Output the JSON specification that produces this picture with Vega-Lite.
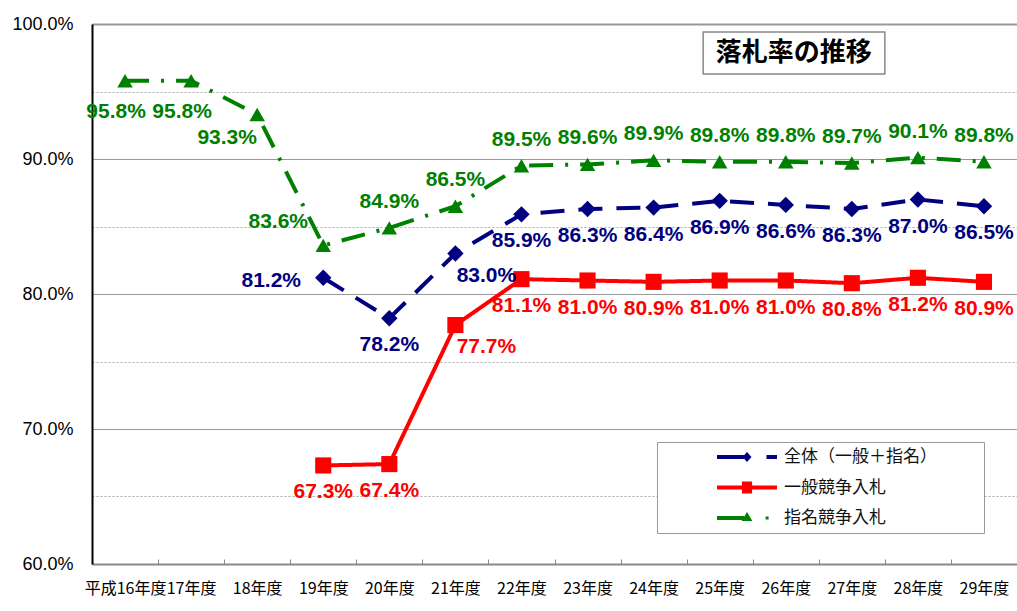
{
  "$schema": "https://vega.github.io/schema/vega-lite/v6.json",
  "width": 925,
  "height": 540,
  "autosize": {"type": "none"},
  "padding": {"left": 92, "top": 24, "right": 0, "bottom": 47},
  "config": {"view": {"stroke": null}},
  "datasets": {
    "rates": [
      {"year": "平成16年度", "series": "指名競争入札", "rate": 0.958},
      {"year": "17年度", "series": "指名競争入札", "rate": 0.958},
      {"year": "18年度", "series": "指名競争入札", "rate": 0.933},
      {"year": "19年度", "series": "指名競争入札", "rate": 0.836},
      {"year": "20年度", "series": "指名競争入札", "rate": 0.849},
      {"year": "21年度", "series": "指名競争入札", "rate": 0.865},
      {"year": "22年度", "series": "指名競争入札", "rate": 0.895},
      {"year": "23年度", "series": "指名競争入札", "rate": 0.896},
      {"year": "24年度", "series": "指名競争入札", "rate": 0.899},
      {"year": "25年度", "series": "指名競争入札", "rate": 0.898},
      {"year": "26年度", "series": "指名競争入札", "rate": 0.898},
      {"year": "27年度", "series": "指名競争入札", "rate": 0.897},
      {"year": "28年度", "series": "指名競争入札", "rate": 0.901},
      {"year": "29年度", "series": "指名競争入札", "rate": 0.898},
      {"year": "19年度", "series": "全体（一般＋指名）", "rate": 0.812},
      {"year": "20年度", "series": "全体（一般＋指名）", "rate": 0.782},
      {"year": "21年度", "series": "全体（一般＋指名）", "rate": 0.830},
      {"year": "22年度", "series": "全体（一般＋指名）", "rate": 0.859},
      {"year": "23年度", "series": "全体（一般＋指名）", "rate": 0.863},
      {"year": "24年度", "series": "全体（一般＋指名）", "rate": 0.864},
      {"year": "25年度", "series": "全体（一般＋指名）", "rate": 0.869},
      {"year": "26年度", "series": "全体（一般＋指名）", "rate": 0.866},
      {"year": "27年度", "series": "全体（一般＋指名）", "rate": 0.863},
      {"year": "28年度", "series": "全体（一般＋指名）", "rate": 0.870},
      {"year": "29年度", "series": "全体（一般＋指名）", "rate": 0.865},
      {"year": "19年度", "series": "一般競争入札", "rate": 0.673},
      {"year": "20年度", "series": "一般競争入札", "rate": 0.674},
      {"year": "21年度", "series": "一般競争入札", "rate": 0.777},
      {"year": "22年度", "series": "一般競争入札", "rate": 0.811},
      {"year": "23年度", "series": "一般競争入札", "rate": 0.810},
      {"year": "24年度", "series": "一般競争入札", "rate": 0.809},
      {"year": "25年度", "series": "一般競争入札", "rate": 0.810},
      {"year": "26年度", "series": "一般競争入札", "rate": 0.810},
      {"year": "27年度", "series": "一般競争入札", "rate": 0.808},
      {"year": "28年度", "series": "一般競争入札", "rate": 0.812},
      {"year": "29年度", "series": "一般競争入札", "rate": 0.809}
    ],
    "note": [
      {"x1": 9.25, "x2": 12.0, "y1": 0.994, "y2": 0.963, "xt": 10.62, "yt": 0.9785, "label": "落札率の推移"}
    ]
  },
  "layer": [
    {
      "data": {"name": "rates"},
      "encoding": {
        "x": {
          "field": "year", "type": "nominal",
          "scale": {"domain": ["平成16年度", "17年度", "18年度", "19年度", "20年度", "21年度", "22年度", "23年度", "24年度", "25年度", "26年度", "27年度", "28年度", "29年度"], "paddingInner": 0, "paddingOuter": 0},
          "axis": {"title": null, "labelAngle": 0, "labelFont": "Noto Sans CJK JP", "labelFontSize": 16, "labelColor": "#000", "labelPadding": 21, "domainColor": "#888", "domainWidth": 2, "tickColor": "#888", "tickSize": -5, "tickBand": "extent", "labelOverlap": false, "labelBound": false, "grid": false}
        },
        "y": {
          "field": "rate", "type": "quantitative",
          "scale": {"domain": [0.6, 1.0], "nice": false, "zero": false},
          "axis": {
            "title": null,
            "values": [0.6, 0.65, 0.7, 0.75, 0.8, 0.85, 0.9, 0.95, 1.0],
            "format": ".1%",
            "labelExpr": "round(datum.value*100) % 10 == 0 ? datum.label : ''",
            "labelFont": "Liberation Sans", "labelFontSize": 18, "labelColor": "#000", "labelPadding": 19,
            "ticks": false,
            "domainColor": "#000", "domainWidth": 2,
            "grid": true,
            "gridColor": {"condition": {"test": "round(datum.value*100) % 10 == 5", "value": "#aaa"}, "value": "#999"},
            "gridDash": {"condition": {"test": "round(datum.value*100) % 10 == 5", "value": [2, 2]}, "value": []},
            "gridWidth": {"condition": {"test": "round(datum.value*100) == 100", "value": 2}, "value": 1}
          }
        },
        "color": {
          "field": "series", "type": "nominal",
          "scale": {"domain": ["全体（一般＋指名）", "一般競争入札", "指名競争入札"], "range": ["#000080", "#ff0000", "#008000"]}
        }
      },
      "layer": [
        {
          "mark": {"type": "line", "strokeWidth": 4, "strokeCap": "butt"},
          "encoding": {
            "strokeDash": {
              "field": "series", "type": "nominal",
              "scale": {"domain": ["全体（一般＋指名）", "一般競争入札", "指名競争入札"], "range": [[24, 14], [1, 0], [24, 12, 3, 12]]},
              "legend": null
            },
            "color": {
              "field": "series", "type": "nominal",
              "legend": {
                "orient": "none", "legendX": 565, "legendY": 418,
                "title": "\u00a0", "titleOrient": "right", "titlePadding": 42,
                "strokeColor": "#999", "fillColor": "#fff", "padding": 5,
                "symbolSize": 3600, "symbolOffset": 55, "labelOffset": 7,
                "clipHeight": 20, "rowPadding": 10.5,
                "labelFont": "Noto Sans CJK JP", "labelFontSize": 17, "labelColor": "#111",
                "encode": {
                  "symbols": {
                    "update": {
                      "shape": {"signal": "datum.value === '全体（一般＋指名）' ? 'M-1,-0.067L-0.1,-0.067L-0.1,0.067L-1,0.067Z M0,-0.17L0.15,0L0,0.17L-0.15,0Z M0.65,-0.067L1,-0.067L1,0.067L0.65,0.067Z' : datum.value === '一般競争入札' ? 'M-1,-0.067L1,-0.067L1,0.067L-1,0.067Z M-0.17,-0.2L0.17,-0.2L0.17,0.2L-0.17,0.2Z' : 'M-1,-0.067L-0.1,-0.067L-0.1,0.067L-1,0.067Z M0,-0.2L0.18,0.1L-0.18,0.1Z M0.62,-0.05L0.72,-0.05L0.72,0.05L0.62,0.05Z'"},
                      "fill": {"scale": "color", "field": "value"},
                      "fillOpacity": {"value": 1},
                      "opacity": {"value": 1},
                      "strokeWidth": {"value": 0},
                      "strokeDash": {"value": []}
                    }
                  }
                }
              }
            }
          }
        },
        {
          "transform": [{"filter": "datum.series == '全体（一般＋指名）'"}],
          "mark": {"type": "point", "filled": true, "opacity": 1, "size": 270, "shape": "diamond"}
        },
        {
          "transform": [{"filter": "datum.series == '一般競争入札'"}],
          "mark": {"type": "point", "filled": true, "opacity": 1, "size": 260, "shape": "square"}
        },
        {
          "transform": [{"filter": "datum.series == '指名競争入札'"}],
          "mark": {"type": "point", "filled": true, "opacity": 1, "size": 240, "shape": "triangle-up"}
        },
        {
          "transform": [{"filter": "datum.series == '指名競争入札' && (datum.year == '平成16年度' || datum.year == '17年度')"}],
          "mark": {"type": "text", "font": "Liberation Sans", "fontSize": 21, "fontWeight": "bold", "dx": -9, "dy": 31},
          "encoding": {"text": {"field": "rate", "type": "quantitative", "format": ".1%"}}
        },
        {
          "transform": [{"filter": "datum.series == '指名競争入札' && datum.year == '18年度'"}],
          "mark": {"type": "text", "font": "Liberation Sans", "fontSize": 21, "fontWeight": "bold", "dx": -30, "dy": 24},
          "encoding": {"text": {"field": "rate", "type": "quantitative", "format": ".1%"}}
        },
        {
          "transform": [{"filter": "datum.series == '指名競争入札' && datum.year == '19年度'"}],
          "mark": {"type": "text", "font": "Liberation Sans", "fontSize": 21, "fontWeight": "bold", "dx": -45, "dy": -23},
          "encoding": {"text": {"field": "rate", "type": "quantitative", "format": ".1%"}}
        },
        {
          "transform": [{"filter": "datum.series == '指名競争入札' && datum.year != '平成16年度' && datum.year != '17年度' && datum.year != '18年度' && datum.year != '19年度'"}],
          "mark": {"type": "text", "font": "Liberation Sans", "fontSize": 21, "fontWeight": "bold", "dy": -26},
          "encoding": {"text": {"field": "rate", "type": "quantitative", "format": ".1%"}}
        },
        {
          "transform": [{"filter": "datum.series == '全体（一般＋指名）' && datum.year == '19年度'"}],
          "mark": {"type": "text", "font": "Liberation Sans", "fontSize": 21, "fontWeight": "bold", "dx": -52, "dy": 3},
          "encoding": {"text": {"field": "rate", "type": "quantitative", "format": ".1%"}}
        },
        {
          "transform": [{"filter": "datum.series != '指名競争入札' && datum.year == '21年度'"}],
          "mark": {"type": "text", "font": "Liberation Sans", "fontSize": 21, "fontWeight": "bold", "dx": 31, "dy": 22},
          "encoding": {"text": {"field": "rate", "type": "quantitative", "format": ".1%"}}
        },
        {
          "transform": [{"filter": "datum.series != '指名競争入札' && datum.year != '21年度' && !(datum.series == '全体（一般＋指名）' && datum.year == '19年度')"}],
          "mark": {"type": "text", "font": "Liberation Sans", "fontSize": 21, "fontWeight": "bold", "dy": 27},
          "encoding": {"text": {"field": "rate", "type": "quantitative", "format": ".1%"}}
        }
      ]
    },
    {
      "data": {"name": "note"},
      "layer": [
        {
          "mark": {"type": "rect", "fill": "#fff", "stroke": "#888", "strokeWidth": 1.5},
          "encoding": {
            "x": {"field": "x1", "type": "quantitative", "scale": {"domain": [0, 14], "nice": false, "zero": false}, "axis": null},
            "x2": {"field": "x2"},
            "y": {"field": "y1", "type": "quantitative", "title": null},
            "y2": {"field": "y2"}
          }
        },
        {
          "mark": {"type": "text", "font": "Noto Sans CJK JP", "fontSize": 26, "fontWeight": "bold", "color": "#000"},
          "encoding": {
            "x": {"field": "xt", "type": "quantitative", "axis": null},
            "y": {"field": "yt", "type": "quantitative", "title": null},
            "text": {"field": "label"}
          }
        }
      ]
    }
  ],
  "resolve": {"scale": {"x": "independent"}, "axis": {"x": "independent"}}
}
